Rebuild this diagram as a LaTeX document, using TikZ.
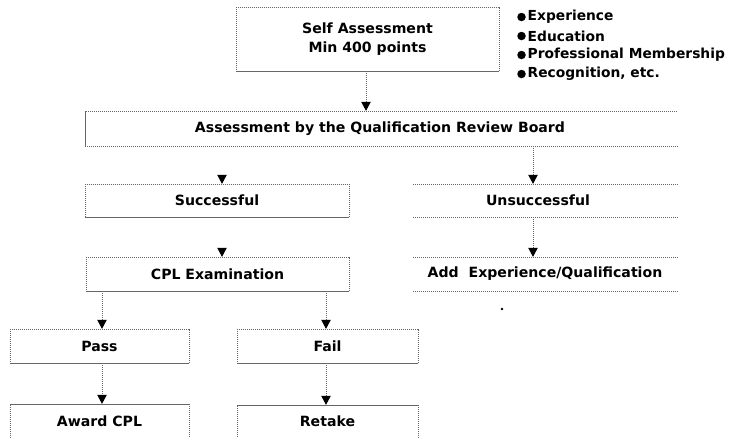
\documentclass[tikz,border=0pt]{standalone}
\usepackage{fontspec}
\setmainfont{DejaVu Sans}
\usetikzlibrary{arrows.meta}
\tikzset{
  lbl/.style={inner sep=0pt, font=\fontsize{14.1}{18.5}\selectfont\bfseries, text=black, align=center},
  side/.style={draw=black!60, line width=0.6pt, dash pattern=on 1.3pt off 0.7pt},
  arr/.style={draw=black!60, line width=0.6pt, dash pattern=on 1pt off 1pt,
    -{Triangle[width=9.5pt,length=9pt,color=black]}},
  bul/.style={circle, fill=black, inner sep=0pt, minimum size=8.5pt},
}
\begin{document}
\begin{tikzpicture}[x=1pt,y=-1pt]
\useasboundingbox (0,0) rectangle (731,437);
\clip (0,0) rectangle (731,437);
% boxes (invisible nodes carrying the text and the frame geometry)
\node[lbl, minimum width=263pt, minimum height=64pt] (self) at (367.5,39) {Self Assessment\\Min 400 points};
\node[lbl, minimum width=592pt, minimum height=35pt] (qrb) at (381,128.5) {};
\node[lbl] (qrbt) at (380,128.5) {Assessment by the Qualification Review Board};
\node[lbl, minimum width=264pt, minimum height=33pt] (succ) at (217,200.5) {Successful};
\node[lbl, minimum width=264pt, minimum height=33pt] (unsucc) at (545,200.5) {};
\node[lbl] (unsucct) at (538,200.5) {Unsuccessful};
\node[lbl, minimum width=263pt, minimum height=34pt] (cpl) at (217.5,274) {CPL Examination};
\node[lbl, minimum width=264pt, minimum height=34pt] (add) at (545,274) {Add\ \ Experience/Qualification};
\node[lbl, minimum width=179pt, minimum height=34pt] (pass) at (99.5,346) {Pass};
\node[lbl, minimum width=181pt, minimum height=34pt] (fail) at (327.5,346) {Fail};
\node[lbl, minimum width=179pt, minimum height=36pt] (award) at (99.5,422) {};
\node[lbl] (awardt) at (99.5,421) {Award CPL};
\node[lbl, minimum width=181pt, minimum height=36pt] (retake) at (327.5,423) {};
\node[lbl] (retaket) at (327.5,421) {Retake};
% frames
\draw[side] (self.north west) rectangle (self.south east);
\draw[side] (qrb.north east) -- (qrb.north west) -- (qrb.south west) -- (qrb.south east);
\draw[side] (succ.north west) rectangle (succ.south east);
\draw[side] (unsucc.north west) -- (unsucc.north east);
\draw[side] (unsucc.south west) -- (unsucc.south east);
\draw[side] (cpl.north west) rectangle (cpl.south east);
\draw[side] (add.north west) -- (add.north east);
\draw[side] (add.south west) -- (add.south east);
\draw[side] (pass.north west) rectangle (pass.south east);
\draw[side] (fail.north west) rectangle (fail.south east);
\draw[side] (award.south west) -- (award.north west) -- (award.north east) -- (award.south east);
\draw[side] (retake.south west) -- (retake.north west) -- (retake.north east) -- (retake.south east);
% bullet list
\foreach \t/\y [count=\i] in {Experience/17, Education/36, Professional Membership/55, {Recognition, etc.}/74}{
  \node[bul] (b\i) at (521.5,\y) {};
  \node[lbl, anchor=west, font=\fontsize{13.8}{18}\selectfont\bfseries] (l\i) at (527.5,\y) {\t};
}
% stray dot
\node[circle, fill=black, inner sep=0pt, minimum size=2.6pt] (dot) at (502,309) {};
% connectors
\coordinate (a1) at (366,0);
\draw[arr] (self.south -| a1) -- (qrb.north -| a1);
\coordinate (a2) at (222,0);
\coordinate (h1) at (222,175);
\draw[arr] (h1) -- (succ.north -| a2);
\coordinate (h2) at (222,248);
\draw[arr] (h2) -- (cpl.north -| a2);
\coordinate (a3) at (533,0);
\draw[arr] (qrb.south -| a3) -- (unsucc.north -| a3);
\draw[arr] (unsucc.south -| a3) -- (add.north -| a3);
\coordinate (a4) at (102,0);
\draw[arr] (cpl.south -| a4) -- (pass.north -| a4);
\draw[arr] (pass.south -| a4) -- (award.north -| a4);
\coordinate (a5) at (326,0);
\draw[arr] (cpl.south -| a5) -- (fail.north -| a5);
\draw[arr] (fail.south -| a5) -- (retake.north -| a5);
\end{tikzpicture}
\end{document}
